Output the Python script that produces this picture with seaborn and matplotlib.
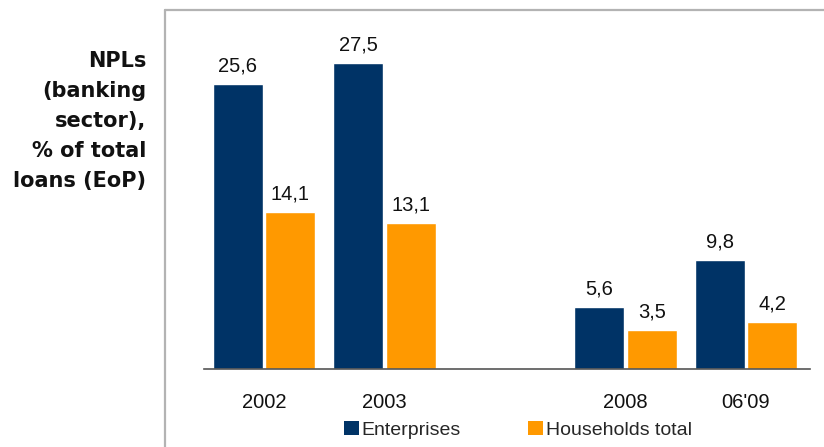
import matplotlib
matplotlib.use("Agg")
import matplotlib.pyplot as plt
from matplotlib.lines import Line2D
from matplotlib.patches import Patch
import pandas as pd
import seaborn as sns

# Periods on the x axis; the blank slot leaves a visual break between 2003 and 2008
periods = ["2002", "2003", "2008", "06'09"]
axis_order = ["2002", "2003", "", "2008", "06'09"]
enterprises = [25.6, 27.5, 5.6, 9.8]
households = [14.1, 13.1, 3.5, 4.2]
series_names = ["Enterprises", "Households total"]
colors = ["#003366", "#FF9900"]
side_title = "NPLs\n(banking\nsector),\n% of total\nloans (EoP)"

df = pd.DataFrame({
    "period": periods * 2,
    "value": enterprises + households,
    "series": [series_names[0]] * len(periods) + [series_names[1]] * len(periods),
})

sns.set_theme(style="white")
plt.rcParams["font.family"] = ["Liberation Sans", "DejaVu Sans"]

W, H, DPI = 824, 447, 100
fig = plt.figure(figsize=(W / DPI, H / DPI), dpi=DPI)

# axes geometry: 120.5 px per category slot, baseline at px 369, ~11.13 px per unit
px_per_cat = 120.5
x_lo, x_hi = -0.5, 4.53
ax_left = 264 - (0 - x_lo) * px_per_cat
ax_w = (x_hi - x_lo) * px_per_cat
base_y = 369
px_per_unit = 11.13
ymax = 30
ax_h = ymax * px_per_unit
ax = fig.add_axes([ax_left / W, (H - base_y) / H, ax_w / W, ax_h / H])

sns.barplot(
    data=df, x="period", y="value", hue="series", order=axis_order,
    hue_order=series_names, palette=colors, width=0.87, gap=0.04,
    saturation=1, ax=ax, legend=False,
)

for container in ax.containers:
    vals = container.datavalues
    ax.bar_label(container, labels=[f"{v:.1f}".replace(".", ",") for v in vals],
                 padding=6, fontsize=14.5, color="#111111")

ax.set_ylim(0, ymax)
ax.set_xlim(x_lo, x_hi)
ax.set_xlabel("")
ax.set_ylabel("")
ax.set_yticks([])
ax.tick_params(axis="x", length=0, pad=17, labelsize=14.5, labelcolor="#111111")
for side in ["left", "right", "top"]:
    ax.spines[side].set_visible(False)
ax.spines["bottom"].set_color("#555555")
ax.spines["bottom"].set_linewidth(1.2)

# gray frame lines: left edge and top edge of the chart panel
fig.add_artist(Line2D([165 / W, 165 / W], [0, 1 - 10 / H], color="#b3b3b3", lw=1.6,
                      transform=fig.transFigure))
fig.add_artist(Line2D([165 / W, 1], [1 - 10 / H, 1 - 10 / H], color="#b3b3b3", lw=1.6,
                      transform=fig.transFigure))

# bold side title, right-aligned next to the panel
fig.text(146 / W, 1 - 51 / H, side_title, ha="right", va="top", fontsize=15,
         fontweight="bold", family=["DejaVu Sans"], linespacing=1.62, color="#111111")

handles = [Patch(facecolor=c, edgecolor="none") for c in colors]
fig.legend(handles, series_names, loc="center", bbox_to_anchor=(518 / W, 1 - 430 / H),
           ncol=2, frameon=False, fontsize=14, handlelength=0.75, handleheight=0.75,
           handletextpad=0.15, columnspacing=3.45, borderaxespad=0)

fig.savefig("out.png", dpi=DPI)
